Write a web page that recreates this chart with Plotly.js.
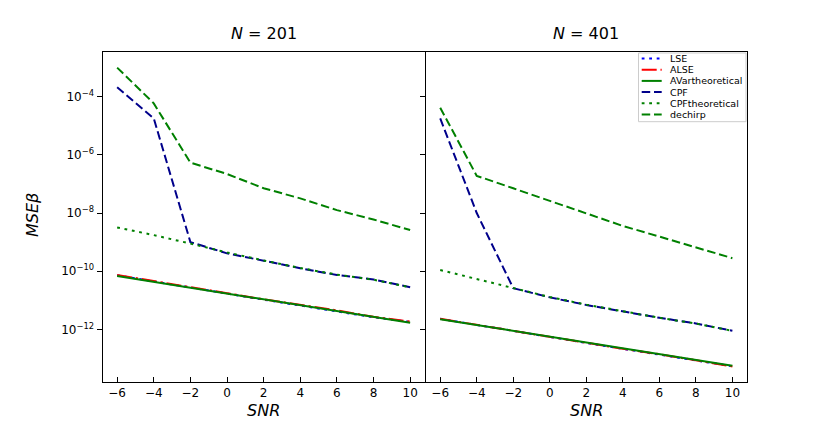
<!DOCTYPE html>
<html>
<head>
<meta charset="utf-8">
<script src="https://cdn.plot.ly/plotly-3.0.1.min.js"></script>
<style>html,body{margin:0;padding:0;background:#fff;}#chart{width:830px;height:436px;}</style>
</head>
<body>
<div id="chart"></div>
<script>
// ---- data ----
const snr = [-6, -4, -2, 0, 2, 4, 6, 8, 10];
const xTickVals = [-6, -4, -2, 0, 2, 4, 6, 8, 10];
const yTickVals = [1e-4, 1e-6, 1e-8, 1e-10, 1e-12];
const yTickText = ['10<sup>−4</sup>', '10<sup>−6</sup>', '10<sup>−8</sup>', '10<sup>−10</sup>', '10<sup>−12</sup>'];
const seriesNames = ['LSE', 'ALSE', 'AVartheoretical', 'CPF', 'CPFtheoretical', 'dechirp'];
const panelTitles = ['<i>N</i> = 201', '<i>N</i> = 401'];

// N = 201
const lse201      = [7.2e-11, 4.4e-11, 2.8e-11, 1.7e-11, 1.05e-11, 6.6e-12, 4.2e-12, 2.6e-12, 1.8e-12];
const alse201     = [7.4e-11, 4.5e-11, 2.9e-11, 1.75e-11, 1.08e-11, 6.9e-12, 4.5e-12, 2.7e-12, 1.85e-12];
const av201       = [6.8e-11, 4.3e-11, 2.7e-11, 1.7e-11, 1.07e-11, 6.8e-12, 4.3e-12, 2.7e-12, 1.7e-12];
const cpf201      = [2.1e-4, 1.8e-5, 1.0e-9, 4.1e-10, 2.3e-10, 1.26e-10, 7.4e-11, 5.2e-11, 2.8e-11];
const cpfth201    = [3.2e-9, 1.74e-9, 8.9e-10, 4.4e-10, 2.35e-10, 1.29e-10, 7.6e-11, 5.1e-11, 2.8e-11];
const dechirp201  = [1.0e-3, 5.9e-5, 5.4e-7, 2.2e-7, 7.1e-8, 3.2e-8, 1.26e-8, 6.0e-9, 2.6e-9];

// N = 401
const lse401      = [2.3e-12, 1.45e-12, 9.0e-13, 5.5e-13, 3.4e-13, 2.2e-13, 1.35e-13, 8.5e-14, 5.4e-14];
const alse401     = [2.3e-12, 1.42e-12, 9.3e-13, 5.7e-13, 3.4e-13, 2.15e-13, 1.4e-13, 8.6e-14, 5.3e-14];
const av401       = [2.24e-12, 1.41e-12, 8.9e-13, 5.6e-13, 3.5e-13, 2.2e-13, 1.4e-13, 8.9e-14, 5.6e-14];
const cpf401      = [1.8e-5, 1.0e-8, 2.6e-11, 1.26e-11, 6.9e-12, 4.1e-12, 2.5e-12, 1.6e-12, 8.9e-13];
const cpfth401    = [1.1e-10, 5.3e-11, 2.6e-11, 1.29e-11, 7.1e-12, 4.2e-12, 2.5e-12, 1.58e-12, 8.9e-13];
const dechirp401  = [4.2e-5, 1.9e-7, 7.1e-8, 2.6e-8, 9.7e-9, 3.6e-9, 1.55e-9, 6.6e-10, 2.8e-10];

// ---- styles ----
const styles = [
  {color: '#0000ff', dash: '2.8px,4.7px'},                  // LSE  b:
  {color: '#ff0000', dash: '15px,3.8px,2.4px,3.8px'},       // ALSE r-.
  {color: '#008000', dash: 'solid'},                        // AVtheoretical g-
  {color: '#00008b', dash: '8.5px,3.8px'},                  // CPF  dashed
  {color: '#008000', dash: '2.8px,4.7px'},                  // CPFtheoretical g:
  {color: '#008000', dash: '8.5px,3.8px'}                   // dechirp g--
];
const LW = 2;

const panels = [
  {xa: 'x', ya: 'y', data: [lse201, alse201, av201, cpf201, cpfth201, dechirp201]},
  {xa: 'x2', ya: 'y2', data: [lse401, alse401, av401, cpf401, cpfth401, dechirp401]}
];

const traces = [];
panels.forEach(p => {
  p.data.forEach((arr, i) => {
    traces.push({
      x: snr, y: arr, xaxis: p.xa, yaxis: p.ya, type: 'scatter', mode: 'lines',
      name: seriesNames[i], showlegend: false, hoverinfo: 'skip',
      line: {color: styles[i].color, dash: styles[i].dash, width: LW}
    });
  });
});

// ---- geometry helpers (pixels -> paper) ----
const W = 830, H = 436;
const px = x => x / W;
const py = y => 1 - y / H;

const FONT = 'DejaVu Sans, Verdana, sans-serif';
const xRange = [-6.8, 10.8];
const yRange = [-13.81, -2.473];

const axisCommon = {
  showline: true, mirror: true, linecolor: '#000', linewidth: 1,
  showgrid: false, zeroline: false, ticklen: 5, tickwidth: 1, tickcolor: '#000',
  tickfont: {family: FONT, size: 12, color: '#000'}
};

const layout = {
  width: W, height: H,
  margin: {l: 0, r: 0, t: 0, b: 0},
  paper_bgcolor: '#fff', plot_bgcolor: '#fff',
  showlegend: false,
  xaxis: Object.assign({}, axisCommon, {domain: [px(102.5), px(424.8)], range: xRange, anchor: 'y',
    ticks: 'inside', tickmode: 'array', tickvals: xTickVals}),
  xaxis2: Object.assign({}, axisCommon, {domain: [px(425.6), px(747)], range: xRange, anchor: 'y2',
    ticks: 'inside', tickmode: 'array', tickvals: xTickVals}),
  yaxis: Object.assign({}, axisCommon, {domain: [py(382), py(52.3)], type: 'log', range: yRange, anchor: 'x',
    ticks: 'outside', tickmode: 'array', tickvals: yTickVals, ticktext: yTickText}),
  yaxis2: Object.assign({}, axisCommon, {domain: [py(382), py(52.3)], type: 'log', range: yRange, anchor: 'x2',
    ticks: 'outside', tickmode: 'array', tickvals: yTickVals, ticktext: yTickText, showticklabels: false}),
  annotations: [],
  shapes: []
};

// titles and axis labels
const centers = [(102.5 + 424.8) / 2, (425.6 + 747) / 2];
centers.forEach((cx, i) => {
  layout.annotations.push({xref: 'paper', yref: 'paper', x: px(cx), y: py(33), xanchor: 'center', yanchor: 'middle',
    text: panelTitles[i], showarrow: false, font: {family: FONT, size: 16, color: '#000'}});
  layout.annotations.push({xref: 'paper', yref: 'paper', x: px(cx), y: py(410), xanchor: 'center', yanchor: 'middle',
    text: '<i>SNR</i>', showarrow: false, borderpad: 0, font: {family: FONT, size: 16, color: '#000'}});
});
layout.annotations.push({xref: 'paper', yref: 'paper', x: px(32), y: py(215), xanchor: 'center', yanchor: 'middle',
  text: '<i>MSEβ</i>', textangle: -90, showarrow: false, font: {family: FONT, size: 16, color: '#000'}});

// legend (drawn from series names and styles)
const legL = 638.5, legR = 746, legT = 53, legB = 121.7;
layout.shapes.push({type: 'rect', xref: 'paper', yref: 'paper', x0: px(legL), x1: px(legR), y0: py(legB), y1: py(legT),
  line: {color: '#cccccc', width: 1}, fillcolor: 'rgba(255,255,255,0.9)', layer: 'above'});
seriesNames.forEach((name, i) => {
  const yy = 58.5 + 11.2 * i;
  layout.shapes.push({type: 'line', xref: 'paper', yref: 'paper', x0: px(641.7), x1: px(661.7), y0: py(yy), y1: py(yy),
    line: {color: styles[i].color, dash: styles[i].dash, width: LW}, layer: 'above'});
  layout.annotations.push({xref: 'paper', yref: 'paper', x: px(668.5), y: py(yy), xanchor: 'left', yanchor: 'middle',
    text: name, showarrow: false, borderpad: 0, font: {family: FONT, size: 9.5, color: '#000'}});
});

Plotly.newPlot('chart', traces, layout, {staticPlot: true, displayModeBar: false});
</script>
</body>
</html>
